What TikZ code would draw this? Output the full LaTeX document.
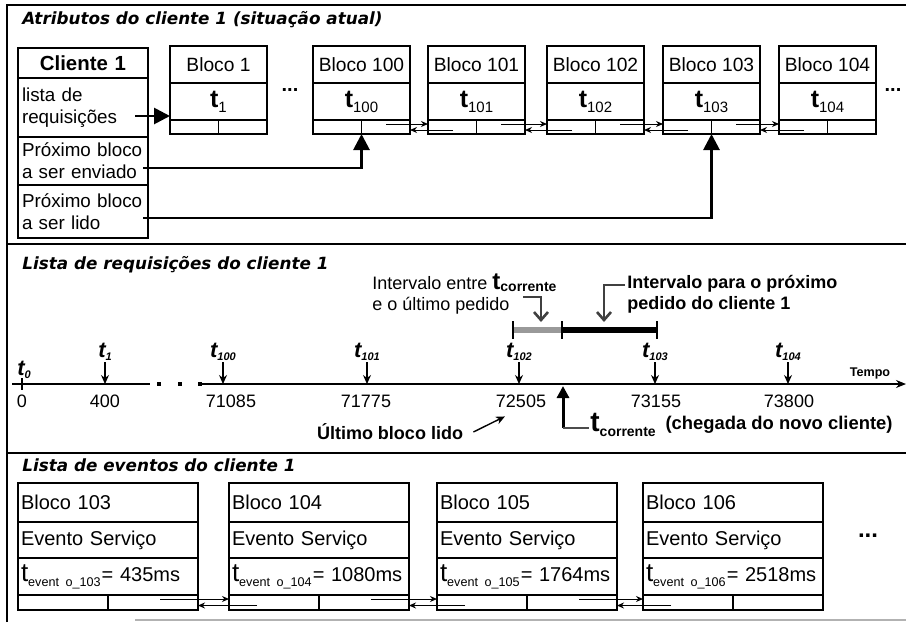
\documentclass[tikz,border=0pt]{standalone}
\usepackage{fontspec}
\setmainfont{Liberation Sans}
\newfontfamily\titlefont{DejaVu Sans}
\usetikzlibrary{positioning,arrows.meta}

\newcommand\tblk[1]{{\bfseries\fontsize{12.5}{13}\selectfont t}\raisebox{-2.5pt}{\fontsize{7.5}{8}\selectfont #1}}
\newcommand\tlab[1]{{\bfseries\itshape\fontsize{11}{11}\selectfont t}\raisebox{-1.5pt}{\bfseries\itshape\fontsize{5.5}{6}\selectfont #1}}
\newcommand\tev[2]{\mbox{{\fontsize{13}{13}\selectfont t}\raisebox{-2.5pt}{\fontsize{6.3}{7}\selectfont event o\_#1}\kern0.5pt= #2ms}}

\tikzset{
  frame/.style={line width=1.2pt},
  sectitle/.style={anchor=west,inner sep=0pt,font=\titlefont\bfseries\itshape\fontsize{8.4}{10}\selectfont},
  clicell/.style={draw,line width=0.6pt,minimum width=65pt,text width=61pt,inner xsep=2pt,inner ysep=0pt,outer sep=0pt,align=left,font=\fontsize{9.4}{11}\selectfont},
  blkrow/.style={draw,line width=0.6pt,minimum width=48.5pt,inner sep=0pt,outer sep=0pt,font=\fontsize{9.6}{11}\selectfont},
  evrow/.style={draw,line width=0.6pt,minimum width=90pt,text width=87pt,inner xsep=1.5pt,inner ysep=0pt,outer sep=0pt,align=left,font=\fontsize{10}{12}\selectfont},
  bigarr/.style={line width=1.4pt,-{Triangle[length=8pt,width=8pt]}},
  link/.style={line width=0.5pt,-{Stealth[length=3.5pt,width=3pt]}},
  tarr/.style={line width=0.6pt,-{Stealth[length=4.5pt,width=4pt]}},
  barb/.style={line width=1.3pt,black!75,-{Straight Barb[length=4pt,width=7pt]}},
}

\begin{document}
\begin{tikzpicture}[x=0.5pt,y=-0.5pt]
\useasboundingbox (0,0) rectangle (906,622);

% frame of the three parts
\draw[frame] (7,622) -- (7,5) -- (906,5);
\draw[frame] (7,244) -- (906,244);
\draw[frame] (7,453) -- (906,453);
\draw[gray!60,line width=0.8pt] (135,620) -- (906,620);

% ---- part 1: client attributes
\node[sectitle] (ttl-attr) at (22,20) {Atributos do cliente 1 (situação atual)};

\node[clicell,minimum height=15pt,align=center,font=\bfseries\fontsize{10.2}{12}\selectfont] (cli-h) at (83,63) {Cliente 1};
\node[clicell,minimum height=29.5pt] (cli-req) at (83,107.5) {lista de\\requisições};
\node[clicell,minimum height=24pt] (cli-env) at (83,161) {Próximo bloco\\a ser enviado};
\node[clicell,minimum height=26.5pt] (cli-lido) at (83,211.5) {Próximo bloco\\a ser lido};

\foreach \n/\L/\s in {b1/170/1, b100/313/100, b101/428/101, b102/547/102, b103/663/103, b104/779/104} {
  \node[blkrow,minimum height=18.5pt] (\n-h) at (\L+48.5,64.5) {Bloco \s};
  \node[blkrow,minimum height=18.5pt] (\n-t) at (\L+48.5,101.5) {\tblk{\s}};
  \node[blkrow,minimum height=7pt] (\n-p) at (\L+48.5,127) {};
  \draw[line width=0.6pt] (\n-p.north) -- (\n-p.south);
}
\node[font=\bfseries\fontsize{10}{10}\selectfont] (dots-a) at (290,90) {...};
\node[font=\bfseries\fontsize{10}{10}\selectfont] (dots-b) at (893,90) {...};

\foreach \a/\b in {b100/b101, b101/b102, b102/b103, b103/b104} {
  \draw[link] ([xshift=-12pt,yshift=1.5pt]\a-p.east) -- ([yshift=1.5pt]\b-p.west);
  \draw[link] ([xshift=12.5pt,yshift=-1.5pt]\b-p.west) -- ([yshift=-1.5pt]\a-p.east);
}

\coordinate (req-o) at (135,116);
\coordinate (env-o) at (143,168);
\coordinate (lido-o) at (143,218);
\draw[bigarr] (req-o) -- (req-o -| b1-t.west);
\draw[bigarr] (env-o) -| (b100-p.south);
\draw[bigarr] (lido-o) -| (b103-p.south);

% ---- part 2: request list on the time axis
\node[sectitle] (ttl-req) at (22,265) {Lista de requisições do cliente 1};

\coordinate (ax-0) at (12,384);
\coordinate (ax-gap) at (150,384);
\coordinate (ax-res) at (200,384);
\coordinate (ax-end) at (906,384);
\draw[line width=0.6pt] (ax-0) -- (ax-gap);
\foreach \x in {159,180,200} \fill (\x-1.6,382.4) rectangle (\x+1.6,385.6);
\draw[line width=0.6pt,-{Stealth[length=5pt,width=4pt]}] (ax-res) -- (ax-end);
\node[font=\bfseries\fontsize{6.3}{6.3}\selectfont,inner sep=0pt] (tempo) at (870,373) {Tempo};

\draw[line width=0.6pt] (22,378) -- (22,390);
\node[inner sep=0.5pt] (tl-0) at (24,370) {\tlab{0}};
\node[font=\fontsize{9}{10}\selectfont] (tn-0) at (22,401) {0};

\foreach \i/\x/\v/\nx in {1/105/400/105, 100/223/71085/231, 101/367/71775/366, 102/519/72505/521, 103/655/73155/656, 104/788/73800/789} {
  \node[inner sep=0.5pt] (tl-\i) at (\x,352) {\tlab{\i}};
  \coordinate (ta-\i) at (\x,384);
  \draw[tarr] (tl-\i.south) -- (ta-\i);
  \node[font=\fontsize{9}{10}\selectfont] (tn-\i) at (\nx,401) {\v};
}

% intervals
\coordinate (iv-a) at (513,330);
\coordinate (iv-b) at (562,330);
\coordinate (iv-c) at (657,330);
\draw[line width=2.6pt,black!40] (iv-a) -- (iv-b);
\draw[line width=2.6pt] (iv-b) -- (iv-c);
\foreach \x in {513,562,657} \draw[line width=1.1pt] (\x,321) -- (\x,339);

\node[anchor=west,align=left,inner sep=0pt,font=\fontsize{9}{10.5}\selectfont] (iv-txt) at (372,294)
  {Intervalo entre {\bfseries\fontsize{12}{12}\selectfont t}\raisebox{-1pt}{\bfseries\fontsize{7}{7}\selectfont corrente}\\e o último pedido};
\node[anchor=west,align=left,inner sep=0pt,font=\bfseries\fontsize{9}{10.5}\selectfont] (iv-prox) at (627,294)
  {Intervalo para o próximo\\pedido do cliente 1};
\coordinate (cor-s) at (523,297);
\coordinate (cor-e) at (541,322);
\draw[barb] (cor-s) -| (cor-e);
\coordinate (prox-s) at (625,285);
\coordinate (prox-e) at (604,322);
\draw[barb] (prox-s) -| (prox-e);

% current time and last block read
\coordinate (tc-foot) at (563,428);
\coordinate (tc-tip) at (563,386);
\node[anchor=west,inner sep=0.5pt] (tc-lbl) at (589,425)
  {{\bfseries\fontsize{14}{14}\selectfont t}\raisebox{-2.5pt}{\bfseries\fontsize{7}{7}\selectfont corrente}};
\node[right=4pt of tc-lbl,inner sep=0pt,font=\bfseries\fontsize{9.2}{11}\selectfont] (tc-note) {(chegada do novo cliente)};
\draw[line width=1.5pt,-{Triangle[length=6pt,width=6pt]}] (tc-foot) -- (tc-tip);
\draw[line width=1.3pt,black!70] (tc-foot) -- (tc-lbl.west |- tc-foot);

\node[inner sep=0pt,font=\bfseries\fontsize{9}{10}\selectfont] (ult) at (390,432) {Último bloco lido};
\draw[line width=0.7pt,-{Stealth[length=4.5pt,width=4pt]}] ([xshift=5pt]ult.east) -- ([xshift=8pt,yshift=-1pt]tn-102.south west);

% ---- part 3: event list
\node[sectitle] (ttl-ev) at (22,465) {Lista de eventos do cliente 1};

\foreach \i/\L/\t in {103/18/435, 104/229/1080, 105/437/1764, 106/643/2518} {
  \node[evrow,minimum height=19.5pt] (e\i-h) at (\L+90,502.5) {Bloco \i};
  \node[evrow,minimum height=18pt] (e\i-s) at (\L+90,540) {Evento Serviço};
  \node[evrow,minimum height=18.5pt] (e\i-t) at (\L+90,576.5) {\tev{\i}{\t}};
  \node[evrow,minimum height=7.5pt] (e\i-p) at (\L+90,602.5) {};
  \draw[line width=0.6pt] (e\i-p.north) -- (e\i-p.south);
}
\node[font=\bfseries\fontsize{12}{12}\selectfont] (dots-c) at (868,536) {...};

\foreach \a/\b in {e103/e104, e104/e105, e105/e106} {
  \draw[link] ([xshift=-19pt,yshift=1.75pt]\a-p.east) -- ([yshift=1.75pt]\b-p.west);
  \draw[link] ([xshift=14pt,yshift=-1.5pt]\b-p.west) -- ([yshift=-1.5pt]\a-p.east);
}
\end{tikzpicture}
\end{document}
